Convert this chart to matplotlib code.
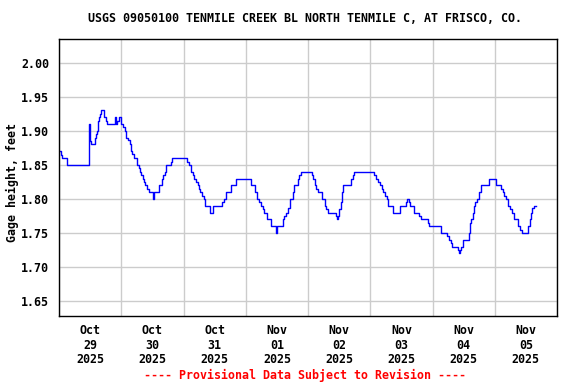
import datetime as dt
import matplotlib
matplotlib.use('Agg')
import matplotlib.pyplot as plt
import matplotlib.dates as mdates

# hours after 2025-10-29 00:00 where the reading changes, and the new reading (feet)
uren = [0, 0.8, 1.3, 2.9, 11.6, 11.9, 12.5, 13.8, 14.4, 14.6, 15.0, 15.4, 15.8, 16.2,
        17.5, 18.3, 18.5, 21.7, 22.0, 22.3, 23.1, 23.8, 24.8, 25.3, 26.0, 26.6, 27.2,
        27.7, 28.2, 29.0, 30.0, 30.8, 31.2, 31.7, 32.2, 32.7, 33.3, 34.0, 34.8, 36.3,
        36.8, 38.6, 39.7, 40.2, 40.7, 41.2, 43.1, 43.6, 49.5, 50.2, 50.9, 51.5, 52.1,
        52.7, 53.5, 54.0, 54.5, 55.3, 55.9, 56.3, 58.1, 59.4,
        63.0, 63.6, 64.5, 66.2, 68.1, 74.2, 75.5, 76.5, 77.2, 77.8, 78.5, 79.1, 80.0,
        81.7, 83.6, 84.0, 86.2, 86.8, 87.5, 88.1, 89.2, 90.1, 90.7, 91.5,
        92.0, 92.5, 93.2, 97.4, 97.9, 98.7, 99.2, 100.0, 101.5, 102.5, 103.1, 103.9,
        106.7, 107.1, 107.6, 108.0, 108.6, 109.0, 109.5, 112.5, 113.4, 113.8,
        121.4, 122.2, 123.0, 123.6, 124.4, 125.0, 125.8, 126.3, 127.0, 128.6, 131.5,
        133.8, 134.3, 134.8, 135.4, 136.9, 138.8, 139.5, 142.3, 142.7, 147.2, 149.5,
        150.5, 151.1, 151.5, 153.7, 154.1, 154.6, 155.1, 155.6, 157.9, 158.5, 159.0,
        159.5, 160.0, 160.5, 161.3, 161.8, 162.6, 165.7, 168.3, 170.5, 171.1, 171.7,
        172.4, 173.0, 173.9, 174.6, 175.4, 176.9, 177.8, 178.5, 180.8, 181.4, 181.9,
        182.5, 183.2, 184.0]
hoogte = [1.87, 1.865, 1.86, 1.85, 1.91, 1.885, 1.88, 1.89, 1.895, 1.90, 1.915, 1.92, 1.925, 1.93,
          1.92, 1.915, 1.91, 1.92, 1.91, 1.915, 1.92, 1.91, 1.905, 1.90, 1.89, 1.886, 1.88,
          1.87, 1.866, 1.86, 1.85, 1.845, 1.84, 1.835, 1.83, 1.825, 1.82, 1.815, 1.81, 1.80,
          1.81, 1.82, 1.83, 1.835, 1.84, 1.85, 1.855, 1.86, 1.855, 1.85, 1.84, 1.835, 1.83,
          1.825, 1.82, 1.815, 1.81, 1.805, 1.80, 1.79, 1.78, 1.79,
          1.795, 1.80, 1.81, 1.82, 1.83, 1.82, 1.81, 1.80, 1.795, 1.79, 1.785, 1.78, 1.77,
          1.76, 1.75, 1.76, 1.77, 1.775, 1.78, 1.787, 1.80, 1.81, 1.82, 1.82,
          1.83, 1.835, 1.84, 1.835, 1.83, 1.82, 1.815, 1.81, 1.80, 1.79, 1.785, 1.78,
          1.775, 1.77, 1.775, 1.785, 1.795, 1.81, 1.82, 1.83, 1.835, 1.84,
          1.835, 1.83, 1.825, 1.82, 1.815, 1.81, 1.805, 1.80, 1.79, 1.78, 1.79,
          1.795, 1.80, 1.795, 1.79, 1.78, 1.775, 1.77, 1.765, 1.76, 1.75, 1.745,
          1.74, 1.735, 1.73, 1.725, 1.72, 1.725, 1.73, 1.74, 1.75, 1.765, 1.77,
          1.78, 1.79, 1.795, 1.80, 1.81, 1.82, 1.83, 1.82, 1.815, 1.81, 1.805,
          1.80, 1.79, 1.785, 1.78, 1.77, 1.76, 1.755, 1.75, 1.76, 1.77, 1.78,
          1.787, 1.79, 1.79]

titel = 'USGS 09050100 TENMILE CREEK BL NORTH TENMILE C, AT FRISCO, CO.'
y_label = 'Gage height, feet'
voetnoot = '---- Provisional Data Subject to Revision ----'

start = dt.datetime(2025, 10, 29)
tijden = [start + dt.timedelta(hours=u) for u in uren]

fig = plt.figure(figsize=(5.76, 3.84), dpi=100)
ax = fig.add_axes([59 / 576, 1 - 316 / 384, 498 / 576, 277 / 384])

ax.plot(tijden, hoogte, drawstyle='steps-post', color='#0000ff', linewidth=1)

ax.set_xlim(start, start + dt.timedelta(days=8))
ax.set_ylim(1.628, 2.035)

font = {'family': 'DejaVu Sans Mono', 'weight': 'bold', 'size': 8.4}

ax.xaxis.set_major_locator(mdates.DayLocator())
ax.xaxis.set_major_formatter(plt.NullFormatter())
ax.xaxis.set_minor_locator(mdates.HourLocator(byhour=[12]))
ax.xaxis.set_minor_formatter(mdates.DateFormatter('%b\n%d\n%Y'))
ax.tick_params(axis='x', which='both', length=0, pad=6)
ax.tick_params(axis='y', length=0, pad=7)
for lbl in ax.xaxis.get_minorticklabels():
    lbl.set(**font)
    lbl.set_linespacing(1.15)

ax.set_yticks([1.65, 1.70, 1.75, 1.80, 1.85, 1.90, 1.95, 2.00])
ax.set_yticklabels(['%.2f' % v for v in ax.get_yticks()], **font)

ax.grid(True, which='major', color='#cccccc', linewidth=1)
ax.set_axisbelow(True)
for s in ax.spines.values():
    s.set_linewidth(1)

ax.set_ylabel(y_label, **font)
ax.yaxis.set_label_coords(-0.081, 0.482)
fig.text(0.53, 1 - 19 / 384, titel, ha='center', va='center', **font)
fig.text(0.53, 1 - 375 / 384, voetnoot, ha='center', va='center', color='red', **font)

fig.savefig('out.png', dpi=100)
